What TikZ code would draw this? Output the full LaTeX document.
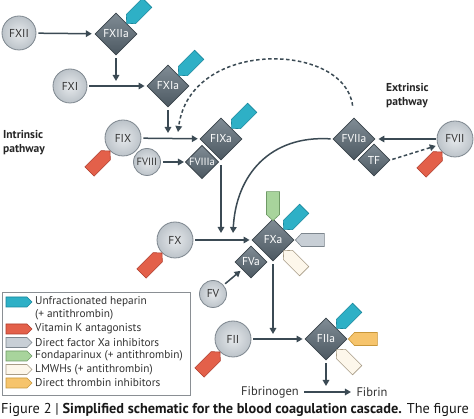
\documentclass[tikz,border=0pt]{standalone}
\usepackage{fontspec}
\setmainfont{PT Sans}
\usetikzlibrary{arrows.meta,shapes.geometric}
\definecolor{arr}{HTML}{3B4A54}
\definecolor{circA}{HTML}{E6E9EC}
\definecolor{circB}{HTML}{BCC3C9}
\definecolor{circline}{HTML}{7E878F}
\definecolor{diaA}{HTML}{808C95}
\definecolor{diaB}{HTML}{4C5861}
\definecolor{dialine}{HTML}{3A444B}
\definecolor{tealF}{HTML}{2EB0C6}\definecolor{tealD}{HTML}{17879C}
\definecolor{redF}{HTML}{E3604A}\definecolor{redD}{HTML}{B03C2B}
\definecolor{greyF}{HTML}{C8CFD6}\definecolor{greyD}{HTML}{7D868E}
\definecolor{greenF}{HTML}{A8D49C}\definecolor{greenD}{HTML}{6F9A66}
\definecolor{creamF}{HTML}{FDF7EB}\definecolor{creamD}{HTML}{A89C86}
\definecolor{yelF}{HTML}{F6C46C}\definecolor{yelD}{HTML}{C8973A}
\definecolor{legline}{HTML}{8A8F94}
\tikzset{
  tag/.pic={\draw[line width=0.6pt, draw=#1D, fill=#1F] (0,0) -- (6,-6.5) -- (29,-6.5) -- (29,6.5) -- (6,6.5) -- cycle;},
  ltag/.pic={\draw[line width=0.6pt, draw=#1D, fill=#1F] (0,0) -- (5,-5) -- (26,-5) -- (26,5) -- (5,5) -- cycle;},
  circ/.style={circle, draw=circline, line width=0.8pt, inner color=circA, outer color=circB, inner sep=0pt, font=\fontsize{11.5}{13}\selectfont, text=black!80},
  dia/.style={diamond, aspect=1, draw=dialine, line width=0.8pt, top color=diaA, bottom color=diaB, inner sep=0pt, font=\fontsize{11.5}{13}\selectfont, text=white},
  bigdia/.style={dia, minimum width=42pt, minimum height=42pt},
  smalldia/.style={dia, minimum width=32pt, minimum height=32pt},
  ar/.style={draw=arr, line width=1.5pt, -{Triangle[length=6pt,width=6.5pt]}},
  dar/.style={ar, dash pattern=on 3.5pt off 2.5pt},
  lbl/.style={font=\fontsize{11.5}{14}\selectfont\bfseries, text=black!85, align=left},
  legtxt/.style={anchor=west, font=\fontsize{11.3}{13}\selectfont, text=black!80, inner sep=0pt}
}
\begin{document}
\begin{tikzpicture}[x=1pt,y=-1pt]
\useasboundingbox (0,0) rectangle (474,419);
\fill[white] (0,0) rectangle (474,419);
% nodes
\node[circ, minimum size=34pt] (FXII) at (19,33) {FXII};
\node[bigdia] (FXIIa) at (116,34) {FXIIa};
\node[circ, minimum size=34pt] (FXI) at (70,86) {FXI};
\node[bigdia] (FXIa) at (168,86) {FXIa};
\node[circ, minimum size=36pt] (FIX) at (123,138) {FIX};
\node[bigdia] (FIXa) at (221,139) {FIXa};
\node[circ, minimum size=27pt, font=\fontsize{10.5}{12}\selectfont] (FVIII) at (147,162) {FVIII};
\node[smalldia, font=\fontsize{10.5}{12}\selectfont] (FVIIIa) at (202,162) {FVIIIa};
\node[circ, minimum size=36pt] (FX) at (175,240) {FX};
\node[bigdia] (FXa) at (273,240) {FXa};
\node[smalldia] (FVa) at (251,262) {FVa};
\node[circ, minimum size=27pt] (FV) at (213,294) {FV};
\node[circ, minimum size=36pt] (FII) at (233,339) {FII};
\node[bigdia] (FIIa) at (326,339) {FIIa};
\node[circ, minimum size=36pt] (FVII) at (455,139) {FVII};
\node[bigdia] (FVIIa) at (354,139) {FVIIa};
\node[smalldia] (TF) at (374,160) {TF};
\node[font=\fontsize{12.5}{14}\selectfont, text=black!80] (Fbg) at (270,392) {Fibrinogen};
\node[font=\fontsize{12.5}{14}\selectfont, text=black!80] (Fbn) at (372,392) {Fibrin};
\node[lbl, anchor=north west, inner sep=0pt] (intr) at (3,130) {Intrinsic\\pathway};
\node[lbl, anchor=north west, inner sep=0pt] (extr) at (386,83) {Extrinsic\\pathway};
% junction coordinates
\coordinate (j1) at (116,81);
\coordinate (j2) at (168,133);
\coordinate (j3) at (221,233);
\coordinate (j4) at (233,233);
\coordinate (j5) at (273,334);
\coordinate (j6) at (326,386);
\coordinate (j7) at (178,132);
% tags
\pic[rotate=45] at (FXIIa.north east) {tag=teal};
\pic[rotate=45] at (FXIa.north east) {tag=teal};
\pic[rotate=45] at (FIXa.north east) {tag=teal};
\pic[rotate=45] at (FXa.north east) {tag=teal};
\pic[rotate=90] at ([yshift=-2pt]FXa.north) {tag=green};
\pic[rotate=0] at ([xshift=1pt]FXa.east) {tag=grey};
\pic[rotate=-45] at (FXa.south east) {tag=cream};
\pic[rotate=45] at (FIIa.north east) {tag=teal};
\pic[rotate=0] at ([xshift=1pt]FIIa.east) {tag=yel};
\pic[rotate=-45] at (FIIa.south east) {tag=cream};
\pic[rotate=225] at (FIX.south west) {tag=red};
\pic[rotate=225] at (FX.south west) {tag=red};
\pic[rotate=225] at (FII.south west) {tag=red};
\pic[rotate=225] at (FVII.south west) {tag=red};
% connectors
\draw[ar, shorten <=2pt, shorten >=3pt] (FXII) -- (FXIIa);
\draw[ar, shorten <=3pt] (FXIIa) -- (j1);
\draw[ar, shorten <=2pt, shorten >=2pt] (FXI) -- (FXIa);
\draw[ar, shorten <=3pt] (FXIa) -- (j2);
\draw[ar, shorten <=2pt, shorten >=2pt] (FIX) -- (FIXa);
\draw[ar, shorten <=2pt, shorten >=1pt] (FVIII) -- (FVIIIa);
\draw[ar, shorten <=5pt] (FIXa.south) -- (j3);
\draw[ar, shorten <=2pt] (FVIIa.west) .. controls (270,135) and (236,175) .. (j4);
\draw[ar, shorten <=2pt, shorten >=2pt] (FX) -- (FXa);
\draw[ar, shorten <=2pt, shorten >=2pt] (FV) -- (FVa);
\draw[ar, shorten <=3pt] (FXa) -- (j5);
\draw[ar, shorten <=2pt, shorten >=2pt] (FII) -- (FIIa);
\draw[ar, shorten <=3pt] (FIIa) -- (j6);
\draw[ar, shorten <=2pt, shorten >=2pt] (Fbg) -- (Fbn);
\draw[ar, shorten <=1pt, shorten >=3pt] (FVII) -- (FVIIa);
\draw[dar, shorten <=2pt, shorten >=2pt] (TF.east) -- (FVII.200);
\draw[dar, shorten <=12pt] (FVIIa.north) .. controls (345,42) and (190,38) .. (j7);
% legend
\draw[legline, line width=0.7pt] (2,292) rectangle (190,395);
\pic[rotate=180] at (32,302) {ltag=teal};
\pic[rotate=180] at (32,329) {ltag=red};
\pic[rotate=180] at (32,342.5) {ltag=grey};
\pic[rotate=180] at (32,356) {ltag=green};
\pic[rotate=180] at (32,369.5) {ltag=cream};
\pic[rotate=180] at (32,383) {ltag=yel};
\node[legtxt] (l1) at (35,302) {Unfractionated heparin};
\node[legtxt] (l1b) at (35,315) {(+ antithrombin)};
\node[legtxt] (l2) at (35,329) {Vitamin K antagonists};
\node[legtxt] (l3) at (35,342.5) {Direct factor Xa inhibitors};
\node[legtxt] (l4) at (35,356) {Fondaparinux (+ antithrombin)};
\node[legtxt] (l5) at (35,369.5) {LMWHs (+ antithrombin)};
\node[legtxt] (l6) at (35,383) {Direct thrombin inhibitors};
% caption
\node[anchor=west, inner sep=0pt, font=\fontsize{14.3}{16}\selectfont, text=black!90] (cap) at (1,410) {Figure 2 | \textbf{Simplified schematic for the blood coagulation cascade.} The figure};
\end{tikzpicture}
\end{document}
